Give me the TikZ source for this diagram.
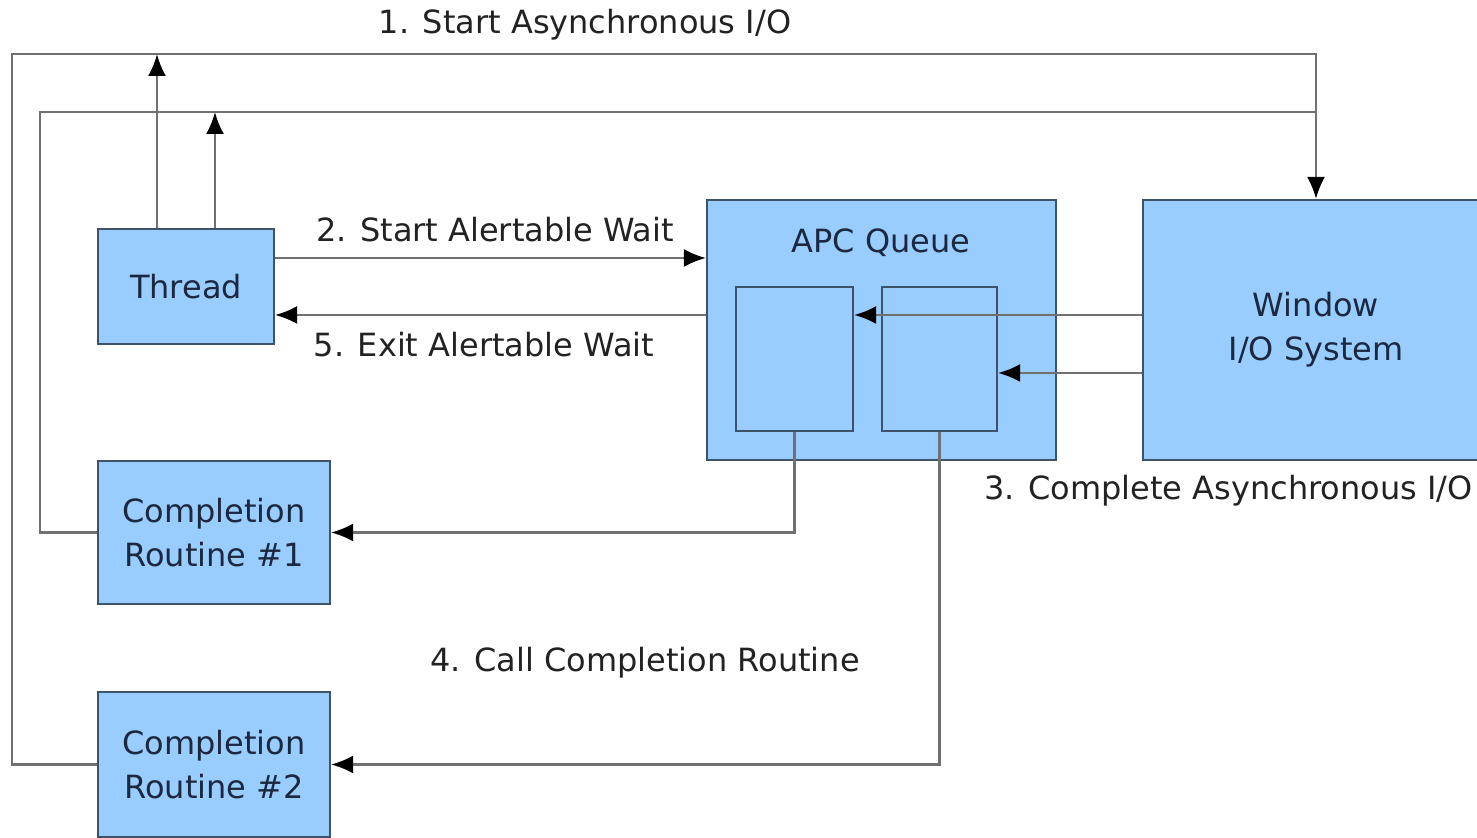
\documentclass[tikz,border=0pt]{standalone}
\usepackage{fontspec}
\setmainfont{DejaVu Sans}
\usetikzlibrary{arrows.meta}
\usetikzlibrary{calc}

\definecolor{boxfill}{RGB}{153,204,255}
\definecolor{boxline}{RGB}{62,82,104}
\definecolor{boxtext}{RGB}{28,40,62}
\definecolor{wire}{RGB}{112,112,112}
\definecolor{labeltext}{RGB}{34,34,34}

\begin{document}
\begin{tikzpicture}[
    font=\fontsize{9.1}{12.5}\selectfont,
    block/.style={draw=boxline, line width=0.6pt, fill=boxfill, text=boxtext, align=center, inner sep=0pt},
    wireline/.style={draw=wire, line width=0.7pt},
    conn/.style={wireline, -{Latex[length=2.2mm,width=1.8mm,color=black]}},
    lbl/.style={text=labeltext}
]
    \clip (0,0) rectangle (14.77,-8.38);
    \fill[white] (0,0) rectangle (14.77,-8.38);

    \node[block, minimum width=1.76cm, minimum height=1.15cm] (thread) at (1.86,-2.865){Thread};
    \node[block, minimum width=3.49cm, minimum height=2.60cm] (apc) at (8.815,-3.30){};
    \node[text=boxtext] (apctitle) at (8.81,-2.43){APC Queue};
    \node[block, minimum width=1.17cm, minimum height=1.44cm] (slotA) at (7.945,-3.59){};
    \node[block, minimum width=1.15cm, minimum height=1.44cm] (slotB) at (9.395,-3.59){};
    \node[block, minimum width=3.46cm, minimum height=2.60cm] (win) at (13.16,-3.30){Window\\I/O System};
    \node[block, minimum width=2.32cm, minimum height=1.43cm] (cr1) at (2.14,-5.325){Completion\\Routine \#1};
    \node[block, minimum width=2.32cm, minimum height=1.45cm] (cr2) at (2.14,-7.645){Completion\\Routine \#2};

    \coordinate (outer) at (0.12,-0.54);
    \coordinate (inner) at (0.40,-1.12);
    \coordinate (up1) at (1.57,-0.54);
    \coordinate (up2) at (2.15,-1.12);
    \coordinate (w2) at (3,-2.58);
    \coordinate (w5) at (3,-3.15);
    \coordinate (w3) at (3,-3.73);

    \draw[wireline] (cr1.west) -| (inner) -- (inner -| win.north);
    \draw[conn] (cr2.west) -| (outer) -| (win.north);
    \draw[conn] (up1 |- thread.north) -- (up1);
    \draw[conn] (up2 |- thread.north) -- (up2);

    \draw[conn] (thread.east |- w2) -- (apc.west |- w2);
    \draw[conn] (apc.west |- w5) -- (thread.east |- w5);
    \draw[conn] (win.west |- w5) -- (slotA.east |- w5);
    \draw[conn] (win.west |- w3) -- (slotB.east |- w3);
    \draw[conn] (slotA.south) |- (cr1.east);
    \draw[conn] (slotB.south) |- (cr2.east);

    \node[lbl] (l1) at (5.85,-0.25){1. Start Asynchronous I/O};
    \node[lbl] (l2) at (4.95,-2.30){2. Start Alertable Wait};
    \node[lbl, anchor=west] (l3) at (9.72,-4.91){3. Complete Asynchronous I/O};
    \node[lbl] (l4) at (6.45,-6.63){4. Call Completion Routine};
    \node[lbl] (l5) at (4.84,-3.45){5. Exit Alertable Wait};
\end{tikzpicture}
\end{document}
